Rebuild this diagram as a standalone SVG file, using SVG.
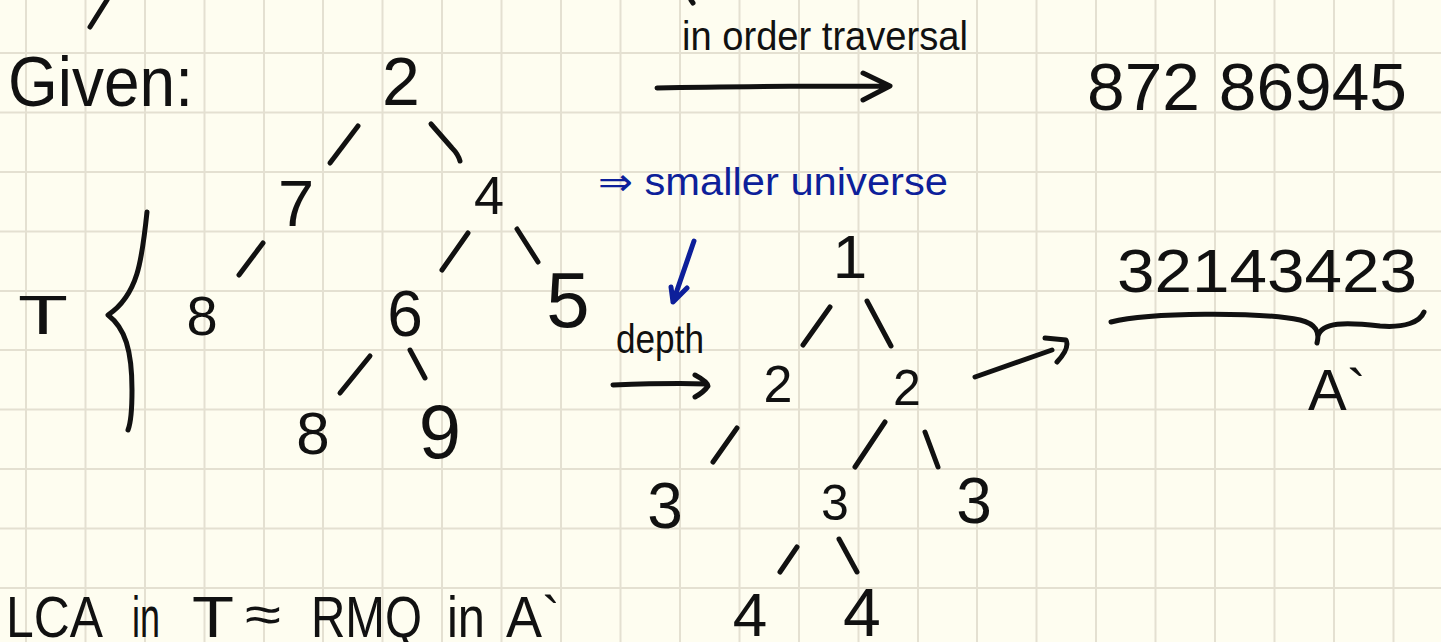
<svg xmlns="http://www.w3.org/2000/svg" width="1441" height="642" viewBox="0 0 1441 642">
<style>
.t{font-family:"Liberation Sans","DejaVu Sans",sans-serif;fill:#111}
.c{text-anchor:middle}
.b{fill:#0d1f9a}
.ink{fill:none;stroke:#111;stroke-width:5;stroke-linecap:round;stroke-linejoin:round}
.blue{fill:none;stroke:#0d1f9a;stroke-width:5;stroke-linecap:round;stroke-linejoin:round}
.grid{fill:none;stroke:#e4e0d1;stroke-width:2}
</style>
<rect width="1441" height="642" fill="#fefdf0"/>
<g id="grid">
<path class="grid" d="M26,0V642M85.5,0V642M145,0V642M204.5,0V642M264,0V642M323,0V642M382.5,0V642M442,0V642M501.5,0V642M561,0V642M620.5,0V642M680,0V642M739.5,0V642M799,0V642M858.5,0V642M918,0V642M977,0V642M1036.5,0V642M1096,0V642M1155.5,0V642M1215,0V642M1274.5,0V642M1334,0V642M1393.5,0V642M0,53H1441M0,112.5H1441M0,172H1441M0,231.5H1441M0,291H1441M0,350H1441M0,409.5H1441M0,469H1441M0,528.5H1441M0,588H1441"/>
</g>
<g id="given"><text class="t" x="8" y="106" font-size="70" textLength="185" lengthAdjust="spacingAndGlyphs">Given:</text></g>
<g id="label-T"><text class="t" x="18" y="334" font-size="56" textLength="50" lengthAdjust="spacingAndGlyphs">T</text></g>
<g id="brace-T"><path class="ink" d="M147,212 C142,260 138,295 108,315 C125,328 132,350 132,390 C132,410 130,425 128,430"/></g>
<g id="t-root"><text class="t c" x="401" y="105" font-size="68">2</text></g>
<g id="t-7"><text class="t c" x="296" y="226" font-size="65">7</text></g>
<g id="t-4"><text class="t c" x="489" y="214" font-size="54">4</text></g>
<g id="t-8a"><text class="t c" x="202" y="335" font-size="56">8</text></g>
<g id="t-6"><text class="t c" x="405" y="336" font-size="64">6</text></g>
<g id="t-5"><text class="t c" x="568" y="327" font-size="78">5</text></g>
<g id="t-8b"><text class="t c" x="313" y="454" font-size="60">8</text></g>
<g id="t-9"><text class="t c" x="440" y="458" font-size="76">9</text></g>
<g id="inorder-label"><text class="t" x="682" y="50" font-size="40" textLength="286" lengthAdjust="spacingAndGlyphs">in order traversal</text></g>
<g id="euler-seq"><text class="t" x="1087" y="110" font-size="66" textLength="320" lengthAdjust="spacingAndGlyphs">872 86945</text></g>
<g id="smaller"><text class="t b" x="598" y="195" font-size="38" textLength="350" lengthAdjust="spacingAndGlyphs">⇒ smaller universe</text></g>
<g id="depth-label"><text class="t" x="616" y="353" font-size="40" textLength="88" lengthAdjust="spacingAndGlyphs">depth</text></g>
<g id="d-1"><text class="t c" x="850" y="278" font-size="62">1</text></g>
<g id="d-2a"><text class="t c" x="778" y="402" font-size="52">2</text></g>
<g id="d-2b"><text class="t c" x="907" y="405" font-size="50">2</text></g>
<g id="d-3a"><text class="t c" x="665" y="528" font-size="64">3</text></g>
<g id="d-3b"><text class="t c" x="835" y="520" font-size="50">3</text></g>
<g id="d-3c"><text class="t c" x="974" y="523" font-size="64">3</text></g>
<g id="d-4a"><text class="t c" x="750" y="636" font-size="62">4</text></g>
<g id="d-4b"><text class="t c" x="862" y="636" font-size="68">4</text></g>
<g id="array-A"><text class="t" x="1117" y="292" font-size="62" textLength="300" lengthAdjust="spacingAndGlyphs">32143423</text></g>
<g id="brace-A"><path class="ink" d="M1111,322 C1150,312 1260,312 1300,320 C1316,324 1320,332 1317,343 M1318,336 C1322,322 1345,322 1380,326 C1405,328 1420,322 1424,312"/></g>
<g id="label-A"><text class="t" x="1308" y="410" font-size="58">A`</text></g>
<g id="statement">
<text class="t" x="6" y="637" font-size="58" textLength="97" lengthAdjust="spacingAndGlyphs">LCA</text>
<text class="t" x="132" y="637" font-size="58" textLength="28" lengthAdjust="spacingAndGlyphs">in</text>
<text class="t" x="192" y="637" font-size="58" textLength="42" lengthAdjust="spacingAndGlyphs">T</text>
<text class="t" x="245" y="632" font-size="52" textLength="36" lengthAdjust="spacingAndGlyphs">≈</text>
<text class="t" x="311" y="637" font-size="58" textLength="111" lengthAdjust="spacingAndGlyphs">RMQ</text>
<text class="t" x="447" y="637" font-size="58" textLength="38" lengthAdjust="spacingAndGlyphs">in</text>
<text class="t" x="506" y="637" font-size="58" textLength="54" lengthAdjust="spacingAndGlyphs">A`</text>
</g>
<g id="connectors">
<path class="ink" d="M107,0 L90,27"/>
<path class="ink" d="M691,0 L693,3"/>
<path class="ink" d="M358,126 L330,163"/>
<path class="ink" d="M431,124 L452,148 Q458,154 460,161"/>
<path class="ink" d="M263,243 L239,275"/>
<path class="ink" d="M468,233 L442,270"/>
<path class="ink" d="M517,229 L538,262"/>
<path class="ink" d="M370,356 L340,393"/>
<path class="ink" d="M410,350 L425,378"/>
<path class="ink" d="M657,88 C740,86 820,86 887,86 M863,73 L890,86 L863,100"/>
<path class="blue" d="M694,241 L673,302 M671,287 L673,302 L687,288"/>
<path class="ink" d="M613,385 C640,384 680,383 707,384 M695,375 Q708,382 708,386 Q704,392 695,397"/>
<path class="ink" d="M830,307 L803,345"/>
<path class="ink" d="M867,301 L891,346"/>
<path class="ink" d="M737,428 L713,462"/>
<path class="ink" d="M885,422 L855,467"/>
<path class="ink" d="M925,432 L938,467"/>
<path class="ink" d="M797,547 L780,572"/>
<path class="ink" d="M839,539 L857,572"/>
<path class="ink" d="M975,377 L1052,350 M1045,338 L1066,340 Q1070,348 1057,362"/>
</g>
</svg>
